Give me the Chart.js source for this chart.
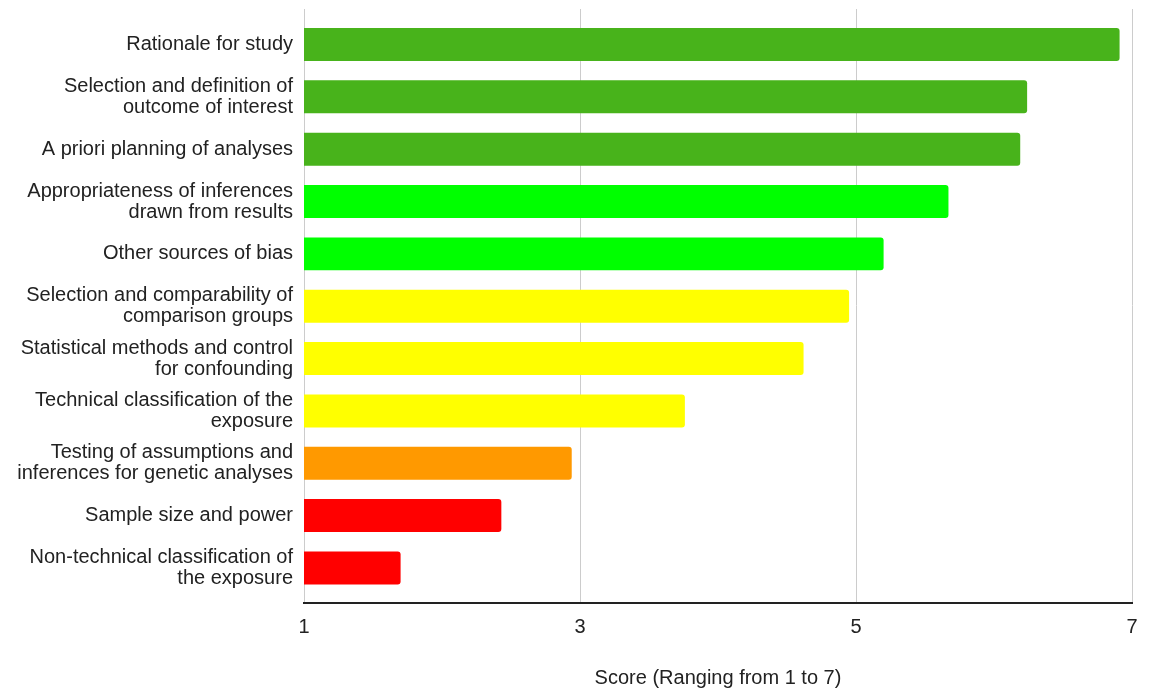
<!DOCTYPE html>
<html>
<head>
<meta charset="utf-8">
<script src="https://cdn.jsdelivr.net/npm/chart.js@4"></script>
<style>
  html, body { margin: 0; padding: 0; background: #fff; }
  #wrap { width: 1154px; height: 688px; }
</style>
</head>
<body>
<div id="wrap"><canvas id="c" width="1154" height="688"></canvas></div>
<script>
const categories = [
  ["Rationale for study"],
  ["Selection and definition of", "outcome of interest"],
  ["A priori planning of analyses"],
  ["Appropriateness of inferences", "drawn from results"],
  ["Other sources of bias"],
  ["Selection and comparability of", "comparison groups"],
  ["Statistical methods and control", "for confounding"],
  ["Technical classification of the", "exposure"],
  ["Testing of assumptions and", "inferences for genetic analyses"],
  ["Sample size and power"],
  ["Non-technical classification of", "the exposure"]
];
const scores = [6.91, 6.24, 6.19, 5.67, 5.20, 4.95, 4.62, 3.76, 2.94, 2.43, 1.70];
const barColors = ["#48b31b", "#48b31b", "#48b31b", "#00ff00", "#00ff00",
                   "#ffff00", "#ffff00", "#ffff00", "#ff9900", "#ff0000", "#ff0000"];
const xTicks = [1, 3, 5, 7];
const axisTitle = "Score (Ranging from 1 to 7)";

const FONT = "Arial, 'Liberation Sans', sans-serif";

new Chart(document.getElementById('c'), {
  type: 'bar',
  data: {
    datasets: [{
      data: scores.map((v, i) => ({ x: v, y: i })),
      backgroundColor: barColors,
      borderWidth: 0,
      borderRadius: 3,
      barPercentage: 0.63,
      categoryPercentage: 1.0
    }]
  },
  options: {
    indexAxis: 'y',
    responsive: false,
    animation: false,
    layout: { padding: { top: 9, right: 22, bottom: 0, left: 0 } },
    plugins: { legend: { display: false }, tooltip: { enabled: false } },
    scales: {
      y: {
        type: 'linear',
        reverse: true,
        offset: false,
        min: -0.678,
        max: 10.67,
        afterBuildTicks: (scale) => { scale.ticks = categories.map((_, i) => ({ value: i })); },
        afterFit: (scale) => { scale.width = 304; scale.paddingTop = 0; scale.paddingBottom = 0; },
        grid: { display: false, drawTicks: false, offset: false },
        border: { display: false },
        ticks: {
          callback: (v) => categories[v],
          color: '#222',
          padding: 11,
          font: { family: FONT, size: 20, lineHeight: 1.05 }
        }
      },
      x: {
        type: 'linear',
        min: 1,
        max: 7,
        afterBuildTicks: (scale) => { scale.ticks = xTicks.map(v => ({ value: v })); },
        afterFit: (scale) => { scale.height = 85; },
        grid: { color: '#cccccc', lineWidth: 1, drawTicks: false },
        border: { display: true, color: '#222', width: 2 },
        ticks: {
          color: '#222',
          padding: 12,
          font: { family: FONT, size: 20 }
        },
        title: {
          display: true,
          text: axisTitle,
          color: '#222',
          font: { family: FONT, size: 20 },
          padding: { top: 26, bottom: -2 }
        }
      }
    }
  }
});
</script>
</body>
</html>
